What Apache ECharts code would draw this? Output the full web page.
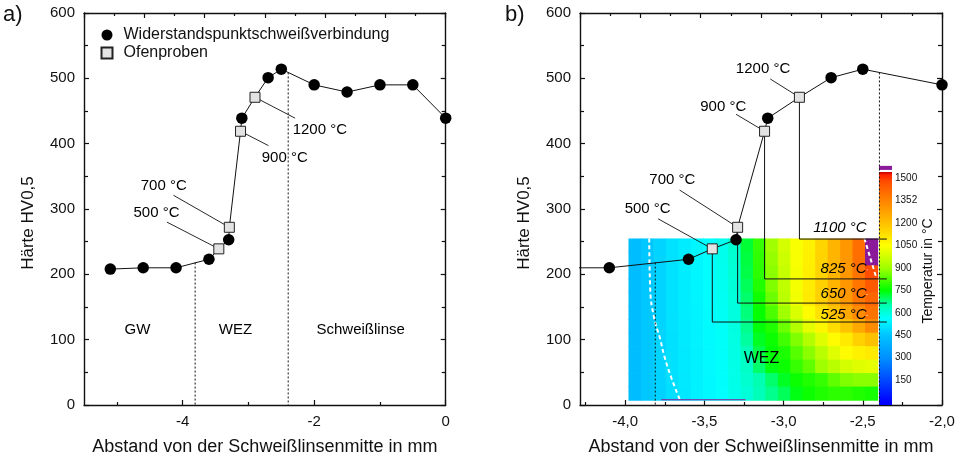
<!DOCTYPE html>
<html><head><meta charset="utf-8">
<script src="https://cdn.jsdelivr.net/npm/echarts@6/dist/echarts.min.js"></script>
<style>html,body{margin:0;padding:0;background:#fff}#c{width:961px;height:461px}</style>
</head><body><div id="c"></div>
<script>
// ---------------- data ----------------
const xSpot  = [-5.1, -4.6, -4.1, -3.6, -3.3, -3.1, -2.7, -2.5, -2.0, -1.5, -1.0, -0.5, 0.0];
const hvSpot = [208, 210, 210, 223, 253, 439, 501, 514, 490, 479, 490, 490, 439];
const xOfen  = [-3.45, -3.29, -3.12, -2.90];
const hvOfen = [239, 272, 419, 471];
const ofenLabels = ['500 °C', '700 °C', '900 °C', '1200 °C'];

const zoneX = [-3.81, -2.395];
const zoneTopHV = [218, 509];
const regionLabels = ['GW', 'WEZ', 'Schweißlinse'];
const regionX = [-4.68, -3.19, -1.285];
const regionHV = [115, 115, 115];

// panel a) annotation positions (text anchor and leader start)
const annoA_textX = [-4.74, -4.63, -2.79, -2.32];
const annoA_textY = [294, 335, 378, 420];
const annoA_leadX = [-4.24, -4.14, -2.695, -2.29];
const annoA_leadY = [280, 321, 397, 439];

// panel b) annotation positions
const annoB_textX = [-4.0, -3.844, -3.523, -3.298];
const annoB_textY = [299, 344, 456, 514];
const annoB_leadX = [-3.792, -3.656, -3.30, -3.084];
const annoB_leadY = [285, 329, 445, 499];

// isotherms in panel b)
const isoLabels = ['525 °C', '650 °C', '825 °C', '1100 °C'];
const isoHV = [127, 156, 193, 254];
const isoEndX = [-2.348, -2.348, -2.348, -2.348];
const isoLabelX = [-2.473, -2.473, -2.473, -2.473];
const isoLabelHV = [137, 169, 207, 270];
const wezLabelB = ['WEZ'];
const wezLabelBX = [-3.136];
const wezLabelBHV = [70];

// tick values
const xTicksA = [-4, -2, 0];
const xMinorA = [-5, -3, -1];
const xTicksB = [-4, -3.5, -3, -2.5, -2];
const xMinorB = [-4.25, -3.75, -3.25, -2.75, -2.25];
const barTicks = [150, 300, 450, 600, 750, 900, 1050, 1200, 1352, 1500];

// temperature field (°C), rows top -> bottom, columns left -> right
const heatXRange = [-3.979, -2.4075];
const heatHVRange = [7.6, 254.9];
const heatTemps = [
  [430,455,480,505,525,545,560,580,615,720,800,900,980,1040,1080,1150,1230,1300,1400,1600],
  [430,455,480,505,525,545,560,580,612,715,795,890,970,1040,1085,1155,1230,1300,1400,1600],
  [430,455,480,505,525,545,560,578,608,710,790,880,960,1035,1090,1155,1230,1300,1390,1480],
  [430,455,480,505,525,543,558,576,605,700,780,870,950,1035,1095,1160,1230,1300,1385,1450],
  [430,455,480,505,525,542,556,574,600,690,765,850,940,1030,1100,1160,1230,1300,1380,1420],
  [430,455,480,505,524,540,555,572,598,680,755,820,900,990,1060,1120,1190,1260,1330,1390],
  [430,455,480,505,523,538,553,570,595,670,745,780,850,930,1010,1070,1130,1190,1260,1330],
  [430,455,480,504,522,537,552,568,592,660,730,760,810,870,930,1000,1060,1100,1160,1200],
  [430,455,480,503,521,536,551,567,590,640,710,750,775,830,880,940,1000,1060,1080,1100],
  [430,455,479,502,520,535,550,565,588,625,690,740,760,800,840,900,940,980,1000,1010],
  [430,455,478,501,519,534,549,563,585,615,650,690,730,760,780,800,840,870,880,880],
  [430,455,477,500,518,533,548,562,583,605,640,670,700,740,760,780,790,790,780,770]
];
// white dashed boundaries in the field
const fusionLeftX  = [-3.848, -3.842, -3.817, -3.781, -3.75, -3.709, -3.656];
const fusionLeftHV = [254.9, 178.9, 133.3, 102.9, 72.5, 42.1, 8.7];
const fusionRightX  = [-2.49, -2.417];
const fusionRightHV = [254.9, 196.7];
const meltLineX = [-3.773, -3.24];
const meltLineHV = [8, 8];
// colour bar range
const tempBarRange = [-17, 1542];
const meltBox = [1556, 1583];

// ---------------- style ----------------
const FONT = '"Liberation Sans", Arial, sans-serif';
const BLACK = '#111';
const MELT_COLOR = '#8a1a9a';
const tempStops = [[0,'#0000ff'],[150,'#0048ff'],[300,'#0090ff'],[450,'#00c4ff'],[560,'#00ffff'],
  [650,'#00ffb0'],[750,'#00ff00'],[900,'#a0ff00'],[1050,'#ffff00'],[1200,'#ffc000'],[1350,'#ff8400'],
  [1480,'#ff4c00'],[1520,'#ff2400'],[1542,'#c80000']];

function hex2rgb(h){return [parseInt(h.slice(1,3),16),parseInt(h.slice(3,5),16),parseInt(h.slice(5,7),16)];}
function tempColor(t){
  if (t >= 1550) return MELT_COLOR;
  if (t <= tempStops[0][0]) return tempStops[0][1];
  for (let i = 1; i < tempStops.length; i++) {
    if (t <= tempStops[i][0]) {
      const a = tempStops[i-1], b = tempStops[i];
      const f = (t - a[0]) / (b[0] - a[0]);
      const ca = hex2rgb(a[1]), cb = hex2rgb(b[1]);
      return 'rgb(' + ca.map((v,k)=>Math.round(v + (cb[k]-v)*f)).join(',') + ')';
    }
  }
  return tempStops[tempStops.length-1][1];
}

// ---------------- build ----------------
const spotPts = xSpot.map((x,i)=>[x,hvSpot[i]]);
const ofenPts = xOfen.map((x,i)=>[x,hvOfen[i]]);
const profile = spotPts.concat(ofenPts).sort((a,b)=>a[0]-b[0]);

const nCols = heatTemps[0].length, nRows = heatTemps.length;
const dx = (heatXRange[1]-heatXRange[0])/nCols;
const dy = (heatHVRange[1]-heatHVRange[0])/nRows;
const heatData = [];
heatTemps.forEach((row,r)=>row.forEach((t,c)=>{
  heatData.push([heatXRange[0]+(c+0.5)*dx, heatHVRange[1]-(r+0.5)*dy, t]);
}));

const axLine = {show:true, onZero:false, lineStyle:{color:BLACK, width:1.4}};
const tickStyle = {color:BLACK, width:1.2};
const lblStyle = {fontSize:15, color:BLACK, fontFamily:FONT};

function bottomAxes(grid, min, max, major, minor, fmt){
  return [
    {gridIndex:grid, type:'value', position:'bottom', min, max,
     axisLine:axLine, splitLine:{show:false},
     axisTick:{show:true, inside:true, length:5, customValues:major, lineStyle:tickStyle},
     axisLabel:Object.assign({show:true, margin:9, customValues:major, formatter:fmt}, lblStyle),
     name:'Abstand von der Schweißlinsenmitte in mm', nameLocation:'middle', nameGap:33,
     nameTextStyle:{fontSize:18, color:BLACK, fontFamily:FONT}},
    {gridIndex:grid, type:'value', position:'bottom', min, max,
     axisLine:{show:false}, splitLine:{show:false}, axisLabel:{show:false},
     axisTick:{show:true, inside:true, length:3, customValues:minor, lineStyle:tickStyle}},
    {gridIndex:grid, type:'value', position:'top', min:0, max:6, interval:1,
     axisLine:axLine, splitLine:{show:false}, axisLabel:{show:false},
     axisTick:{show:true, inside:true, length:5, lineStyle:tickStyle},
     minorTick:{show:true, splitNumber:2, length:3, lineStyle:tickStyle}}
  ];
}
function yAxes(grid){
  return [
    {gridIndex:grid, type:'value', position:'left', min:0, max:600, interval:100,
     axisLine:axLine, splitLine:{show:false},
     axisTick:{show:true, inside:true, length:5, lineStyle:tickStyle},
     minorTick:{show:true, splitNumber:2, length:4, lineStyle:tickStyle},
     axisLabel:Object.assign({margin:9}, lblStyle),
     name:'Härte HV0,5', nameLocation:'middle', nameRotate:90, nameGap:47,
     nameTextStyle:{fontSize:17, color:BLACK, fontFamily:FONT, padding:[0,28,0,0]}},
    {gridIndex:grid, type:'value', position:'right', min:0, max:600, interval:100,
     axisLine:axLine, splitLine:{show:false}, axisLabel:{show:false},
     axisTick:{show:true, inside:true, length:5, lineStyle:tickStyle},
     minorTick:{show:true, splitNumber:2, length:4, lineStyle:tickStyle}}
  ];
}

const commaFmt = v => v.toFixed(1).replace('.', ',');

const xAxis = bottomAxes(0, -5.5, 0, xTicksA, xMinorA, v => String(v))
  .concat(bottomAxes(1, -4.285, -2.0, xTicksB, xMinorB, commaFmt))
  .concat([{gridIndex:2, type:'value', min:0, max:1, show:false}]);
const yAxis = yAxes(0).concat(yAxes(1)).concat([
  {gridIndex:2, type:'value', position:'right', min:tempBarRange[0], max:tempBarRange[1],
   axisLine:{show:false}, axisTick:{show:false}, splitLine:{show:false},
   axisLabel:{show:true, customValues:barTicks, fontSize:10, margin:3, color:BLACK, fontFamily:FONT,
     formatter: v => String(v)},
   name:'Temperatur in °C', nameLocation:'middle', nameRotate:90, nameGap:29,
   nameTextStyle:{fontSize:14, color:BLACK, fontFamily:FONT, padding:[0,0,0,35]}}
]);

const series = [];
function lineS(xi, yi, data, style, z){
  series.push({type:'line', xAxisIndex:xi, yAxisIndex:yi, data, symbol:'none', silent:true,
    lineStyle:Object.assign({color:BLACK, width:1}, style), z, clip:true});
}
function textS(xi, yi, items, label, z){
  series.push({type:'scatter', xAxisIndex:xi, yAxisIndex:yi, symbolSize:1, silent:true, z,
    itemStyle:{color:'#fff', opacity:1},
    data: items.map(it=>({name:it[2], value:[it[0],it[1]]})),
    label:Object.assign({show:true, position:[0,0], formatter:'{b}', color:'#000', fontFamily:FONT,
      fontSize:15, verticalAlign:'middle', textBorderWidth:0, opacity:1}, label)});
}
function markers(xi, yi){
  series.push({type:'scatter', name:'Widerstandspunktschweißverbindung', xAxisIndex:xi, yAxisIndex:yi,
    data:spotPts, symbol:'circle', symbolSize:11.5, itemStyle:{color:'#000', opacity:1}, z:8, silent:true});
  series.push({type:'scatter', name:'Ofenproben', xAxisIndex:xi, yAxisIndex:yi,
    data:ofenPts, symbol:'rect', symbolSize:10,
    itemStyle:{color:'#e3e3e3', borderColor:'#222', borderWidth:1, opacity:1}, z:9, silent:true});
}

// ---- panel a ----
zoneX.forEach((x,i)=>lineS(0,0,[[x,zoneTopHV[i]],[x,0]],{type:[2,2],width:1},3));
lineS(0,0,profile,{},5);
xOfen.forEach((x,i)=>lineS(0,0,[[annoA_leadX[i],annoA_leadY[i]],[x,hvOfen[i]]],{width:0.9},4));
markers(0,0);
textS(0,0, ofenLabels.map((t,i)=>[annoA_textX[i],annoA_textY[i],t]), {align:'left'}, 10);
textS(0,0, regionLabels.map((t,i)=>[regionX[i],regionHV[i],t]), {align:'center'}, 10);

// ---- panel b ----
series.push({type:'custom', xAxisIndex:3, yAxisIndex:2, data:heatData, silent:true, z:1,
  encode:{x:0, y:1},
  renderItem:(params, api)=>{
    const xc = api.value(0), yc = api.value(1), t = api.value(2);
    const p1 = api.coord([xc-dx/2, yc+dy/2]);
    const p2 = api.coord([xc+dx/2, yc-dy/2]);
    return {type:'rect', shape:{x:p1[0], y:p1[1], width:p2[0]-p1[0]+0.7, height:p2[1]-p1[1]+0.7},
      style:{fill:tempColor(t)}};
  }});
lineS(3,2, fusionLeftX.map((x,i)=>[x,fusionLeftHV[i]]), {color:'#fff', width:2, type:[4,3]}, 2);
series[series.length-1].smooth = true;
lineS(3,2, fusionRightX.map((x,i)=>[x,fusionRightHV[i]]), {color:'#fff', width:2, type:[4,3]}, 2);
lineS(3,2, meltLineX.map((x,i)=>[x,meltLineHV[i]]), {color:MELT_COLOR, width:1.2}, 2);
zoneX.forEach((x,i)=>lineS(3,2,[[x,zoneTopHV[i]],[x,0]],{type:[2,2],width:1},3));
lineS(3,2,profile,{},5);
xOfen.forEach((x,i)=>lineS(3,2,[[annoB_leadX[i],annoB_leadY[i]],[x,hvOfen[i]]],{width:0.9},4));
xOfen.forEach((x,i)=>lineS(3,2,[[x,hvOfen[i]],[x,isoHV[i]],[isoEndX[i],isoHV[i]]],{width:1},6));
markers(3,2);
textS(3,2, ofenLabels.map((t,i)=>[annoB_textX[i],annoB_textY[i],t]), {align:'left'}, 10);
textS(3,2, isoLabels.map((t,i)=>[isoLabelX[i],isoLabelHV[i],t]), {align:'right', fontStyle:'italic'}, 10);
textS(3,2, wezLabelB.map((t,i)=>[wezLabelBX[i],wezLabelBHV[i],t]), {align:'center', fontSize:16}, 10);

// ---- colour bar ----
const span = tempBarRange[1]-tempBarRange[0];
series.push({type:'custom', xAxisIndex:6, yAxisIndex:4, data:[[0, tempBarRange[0], tempBarRange[1]]],
  silent:true, z:2, clip:false, encode:{x:0, y:1},
  renderItem:(params, api)=>{
    const pTop = api.coord([0, tempBarRange[1]]);
    const pBot = api.coord([1, tempBarRange[0]]);
    const mTop = api.coord([0, meltBox[1]]);
    const mBot = api.coord([1, meltBox[0]]);
    const stops = [{offset:0, color:tempStops[0][1]}].concat(
      tempStops.map(s=>({offset:Math.max(0,(s[0]-tempBarRange[0])/span), color:s[1]})));
    return {type:'group', children:[
      {type:'rect', shape:{x:pTop[0], y:pTop[1], width:pBot[0]-pTop[0], height:pBot[1]-pTop[1]},
       style:{fill:new echarts.graphic.LinearGradient(0,1,0,0,stops)}},
      {type:'rect', shape:{x:mTop[0], y:mTop[1], width:mBot[0]-mTop[0], height:mBot[1]-mTop[1]},
       style:{fill:MELT_COLOR}}
    ]};
  }});

const chart = echarts.init(document.getElementById('c'), null, {renderer:'canvas'});
chart.setOption({
  animation:false,
  backgroundColor:'#fff',
  textStyle:{fontFamily:FONT},
  grid:[
    {left:84, top:13, width:361.7, height:394.7, containLabel:false},
    {left:580, top:13, width:362, height:394.7, containLabel:false},
    {left:879, top:172, width:13, height:233, containLabel:false}
  ],
  xAxis, yAxis,
  legend:{show:true, data:['Widerstandspunktschweißverbindung','Ofenproben'], orient:'vertical',
    left:100.5, top:26, itemWidth:11, itemHeight:11, itemGap:0, padding:0, selectedMode:false,
    textStyle:{fontSize:16, lineHeight:18, color:BLACK, fontFamily:FONT, padding:[0,0,0,6]}},
  graphic:[
    {type:'text', left:3, top:4, style:{text:'a)', fontSize:22, fill:BLACK, fontFamily:FONT}},
    {type:'text', left:505, top:4, style:{text:'b)', fontSize:22, fill:BLACK, fontFamily:FONT}}
  ],
  series
});
</script></body></html>
